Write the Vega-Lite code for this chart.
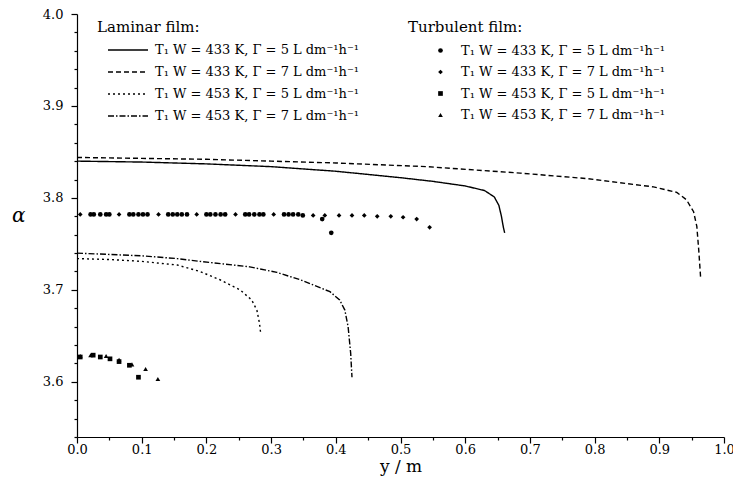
{
  "$schema": "https://vega.github.io/schema/vega-lite/v6.json",
  "width": 647,
  "height": 423,
  "autosize": "none",
  "padding": {"left": 77, "top": 14, "right": 9, "bottom": 59},
  "background": "white",
  "config": {
    "view": {"stroke": null},
    "font": "DejaVu Serif"
  },
  "resolve": {"legend": {"shape": "independent", "strokeDash": "independent"}},
  "datasets": {
    "laminar": [
      {"y": 0.0, "a": 3.840, "lam": "T₁ W = 433 K, Γ = 5 L dm⁻¹h⁻¹"},
      {"y": 0.1, "a": 3.839, "lam": "T₁ W = 433 K, Γ = 5 L dm⁻¹h⁻¹"},
      {"y": 0.2, "a": 3.837, "lam": "T₁ W = 433 K, Γ = 5 L dm⁻¹h⁻¹"},
      {"y": 0.3, "a": 3.834, "lam": "T₁ W = 433 K, Γ = 5 L dm⁻¹h⁻¹"},
      {"y": 0.4, "a": 3.829, "lam": "T₁ W = 433 K, Γ = 5 L dm⁻¹h⁻¹"},
      {"y": 0.5, "a": 3.822, "lam": "T₁ W = 433 K, Γ = 5 L dm⁻¹h⁻¹"},
      {"y": 0.55, "a": 3.818, "lam": "T₁ W = 433 K, Γ = 5 L dm⁻¹h⁻¹"},
      {"y": 0.6, "a": 3.813, "lam": "T₁ W = 433 K, Γ = 5 L dm⁻¹h⁻¹"},
      {"y": 0.63, "a": 3.808, "lam": "T₁ W = 433 K, Γ = 5 L dm⁻¹h⁻¹"},
      {"y": 0.645, "a": 3.801, "lam": "T₁ W = 433 K, Γ = 5 L dm⁻¹h⁻¹"},
      {"y": 0.652, "a": 3.792, "lam": "T₁ W = 433 K, Γ = 5 L dm⁻¹h⁻¹"},
      {"y": 0.656, "a": 3.780, "lam": "T₁ W = 433 K, Γ = 5 L dm⁻¹h⁻¹"},
      {"y": 0.659, "a": 3.768, "lam": "T₁ W = 433 K, Γ = 5 L dm⁻¹h⁻¹"},
      {"y": 0.661, "a": 3.762, "lam": "T₁ W = 433 K, Γ = 5 L dm⁻¹h⁻¹"},

      {"y": 0.0, "a": 3.844, "lam": "T₁ W = 433 K, Γ = 7 L dm⁻¹h⁻¹"},
      {"y": 0.1, "a": 3.843, "lam": "T₁ W = 433 K, Γ = 7 L dm⁻¹h⁻¹"},
      {"y": 0.2, "a": 3.842, "lam": "T₁ W = 433 K, Γ = 7 L dm⁻¹h⁻¹"},
      {"y": 0.3, "a": 3.840, "lam": "T₁ W = 433 K, Γ = 7 L dm⁻¹h⁻¹"},
      {"y": 0.4, "a": 3.838, "lam": "T₁ W = 433 K, Γ = 7 L dm⁻¹h⁻¹"},
      {"y": 0.54, "a": 3.834, "lam": "T₁ W = 433 K, Γ = 7 L dm⁻¹h⁻¹"},
      {"y": 0.685, "a": 3.827, "lam": "T₁ W = 433 K, Γ = 7 L dm⁻¹h⁻¹"},
      {"y": 0.788, "a": 3.821, "lam": "T₁ W = 433 K, Γ = 7 L dm⁻¹h⁻¹"},
      {"y": 0.891, "a": 3.812, "lam": "T₁ W = 433 K, Γ = 7 L dm⁻¹h⁻¹"},
      {"y": 0.927, "a": 3.806, "lam": "T₁ W = 433 K, Γ = 7 L dm⁻¹h⁻¹"},
      {"y": 0.942, "a": 3.798, "lam": "T₁ W = 433 K, Γ = 7 L dm⁻¹h⁻¹"},
      {"y": 0.953, "a": 3.785, "lam": "T₁ W = 433 K, Γ = 7 L dm⁻¹h⁻¹"},
      {"y": 0.958, "a": 3.769, "lam": "T₁ W = 433 K, Γ = 7 L dm⁻¹h⁻¹"},
      {"y": 0.961, "a": 3.743, "lam": "T₁ W = 433 K, Γ = 7 L dm⁻¹h⁻¹"},
      {"y": 0.964, "a": 3.712, "lam": "T₁ W = 433 K, Γ = 7 L dm⁻¹h⁻¹"},

      {"y": 0.0, "a": 3.734, "lam": "T₁ W = 453 K, Γ = 5 L dm⁻¹h⁻¹"},
      {"y": 0.05, "a": 3.733, "lam": "T₁ W = 453 K, Γ = 5 L dm⁻¹h⁻¹"},
      {"y": 0.1, "a": 3.731, "lam": "T₁ W = 453 K, Γ = 5 L dm⁻¹h⁻¹"},
      {"y": 0.155, "a": 3.727, "lam": "T₁ W = 453 K, Γ = 5 L dm⁻¹h⁻¹"},
      {"y": 0.19, "a": 3.720, "lam": "T₁ W = 453 K, Γ = 5 L dm⁻¹h⁻¹"},
      {"y": 0.221, "a": 3.711, "lam": "T₁ W = 453 K, Γ = 5 L dm⁻¹h⁻¹"},
      {"y": 0.252, "a": 3.700, "lam": "T₁ W = 453 K, Γ = 5 L dm⁻¹h⁻¹"},
      {"y": 0.27, "a": 3.689, "lam": "T₁ W = 453 K, Γ = 5 L dm⁻¹h⁻¹"},
      {"y": 0.278, "a": 3.678, "lam": "T₁ W = 453 K, Γ = 5 L dm⁻¹h⁻¹"},
      {"y": 0.282, "a": 3.664, "lam": "T₁ W = 453 K, Γ = 5 L dm⁻¹h⁻¹"},
      {"y": 0.284, "a": 3.652, "lam": "T₁ W = 453 K, Γ = 5 L dm⁻¹h⁻¹"},

      {"y": 0.0, "a": 3.740, "lam": "T₁ W = 453 K, Γ = 7 L dm⁻¹h⁻¹"},
      {"y": 0.1, "a": 3.737, "lam": "T₁ W = 453 K, Γ = 7 L dm⁻¹h⁻¹"},
      {"y": 0.155, "a": 3.734, "lam": "T₁ W = 453 K, Γ = 7 L dm⁻¹h⁻¹"},
      {"y": 0.19, "a": 3.731, "lam": "T₁ W = 453 K, Γ = 7 L dm⁻¹h⁻¹"},
      {"y": 0.267, "a": 3.725, "lam": "T₁ W = 453 K, Γ = 7 L dm⁻¹h⁻¹"},
      {"y": 0.309, "a": 3.719, "lam": "T₁ W = 453 K, Γ = 7 L dm⁻¹h⁻¹"},
      {"y": 0.345, "a": 3.711, "lam": "T₁ W = 453 K, Γ = 7 L dm⁻¹h⁻¹"},
      {"y": 0.391, "a": 3.698, "lam": "T₁ W = 453 K, Γ = 7 L dm⁻¹h⁻¹"},
      {"y": 0.406, "a": 3.689, "lam": "T₁ W = 453 K, Γ = 7 L dm⁻¹h⁻¹"},
      {"y": 0.414, "a": 3.678, "lam": "T₁ W = 453 K, Γ = 7 L dm⁻¹h⁻¹"},
      {"y": 0.419, "a": 3.660, "lam": "T₁ W = 453 K, Γ = 7 L dm⁻¹h⁻¹"},
      {"y": 0.423, "a": 3.631, "lam": "T₁ W = 453 K, Γ = 7 L dm⁻¹h⁻¹"},
      {"y": 0.425, "a": 3.605, "lam": "T₁ W = 453 K, Γ = 7 L dm⁻¹h⁻¹"}
    ],
    "turbulent": [
      {"y": 0.021, "a": 3.782, "tur": "T₁ W = 433 K, Γ = 5 L dm⁻¹h⁻¹"},
      {"y": 0.026, "a": 3.782, "tur": "T₁ W = 433 K, Γ = 5 L dm⁻¹h⁻¹"},
      {"y": 0.036, "a": 3.782, "tur": "T₁ W = 433 K, Γ = 5 L dm⁻¹h⁻¹"},
      {"y": 0.045, "a": 3.782, "tur": "T₁ W = 433 K, Γ = 5 L dm⁻¹h⁻¹"},
      {"y": 0.050, "a": 3.782, "tur": "T₁ W = 433 K, Γ = 5 L dm⁻¹h⁻¹"},
      {"y": 0.081, "a": 3.782, "tur": "T₁ W = 433 K, Γ = 5 L dm⁻¹h⁻¹"},
      {"y": 0.087, "a": 3.782, "tur": "T₁ W = 433 K, Γ = 5 L dm⁻¹h⁻¹"},
      {"y": 0.095, "a": 3.782, "tur": "T₁ W = 433 K, Γ = 5 L dm⁻¹h⁻¹"},
      {"y": 0.102, "a": 3.782, "tur": "T₁ W = 433 K, Γ = 5 L dm⁻¹h⁻¹"},
      {"y": 0.109, "a": 3.782, "tur": "T₁ W = 433 K, Γ = 5 L dm⁻¹h⁻¹"},
      {"y": 0.141, "a": 3.782, "tur": "T₁ W = 433 K, Γ = 5 L dm⁻¹h⁻¹"},
      {"y": 0.148, "a": 3.782, "tur": "T₁ W = 433 K, Γ = 5 L dm⁻¹h⁻¹"},
      {"y": 0.155, "a": 3.782, "tur": "T₁ W = 433 K, Γ = 5 L dm⁻¹h⁻¹"},
      {"y": 0.162, "a": 3.782, "tur": "T₁ W = 433 K, Γ = 5 L dm⁻¹h⁻¹"},
      {"y": 0.170, "a": 3.782, "tur": "T₁ W = 433 K, Γ = 5 L dm⁻¹h⁻¹"},
      {"y": 0.200, "a": 3.782, "tur": "T₁ W = 433 K, Γ = 5 L dm⁻¹h⁻¹"},
      {"y": 0.206, "a": 3.782, "tur": "T₁ W = 433 K, Γ = 5 L dm⁻¹h⁻¹"},
      {"y": 0.214, "a": 3.782, "tur": "T₁ W = 433 K, Γ = 5 L dm⁻¹h⁻¹"},
      {"y": 0.222, "a": 3.782, "tur": "T₁ W = 433 K, Γ = 5 L dm⁻¹h⁻¹"},
      {"y": 0.229, "a": 3.782, "tur": "T₁ W = 433 K, Γ = 5 L dm⁻¹h⁻¹"},
      {"y": 0.260, "a": 3.782, "tur": "T₁ W = 433 K, Γ = 5 L dm⁻¹h⁻¹"},
      {"y": 0.266, "a": 3.782, "tur": "T₁ W = 433 K, Γ = 5 L dm⁻¹h⁻¹"},
      {"y": 0.274, "a": 3.782, "tur": "T₁ W = 433 K, Γ = 5 L dm⁻¹h⁻¹"},
      {"y": 0.282, "a": 3.782, "tur": "T₁ W = 433 K, Γ = 5 L dm⁻¹h⁻¹"},
      {"y": 0.288, "a": 3.782, "tur": "T₁ W = 433 K, Γ = 5 L dm⁻¹h⁻¹"},
      {"y": 0.320, "a": 3.782, "tur": "T₁ W = 433 K, Γ = 5 L dm⁻¹h⁻¹"},
      {"y": 0.327, "a": 3.782, "tur": "T₁ W = 433 K, Γ = 5 L dm⁻¹h⁻¹"},
      {"y": 0.334, "a": 3.782, "tur": "T₁ W = 433 K, Γ = 5 L dm⁻¹h⁻¹"},
      {"y": 0.342, "a": 3.782, "tur": "T₁ W = 433 K, Γ = 5 L dm⁻¹h⁻¹"},
      {"y": 0.349, "a": 3.781, "tur": "T₁ W = 433 K, Γ = 5 L dm⁻¹h⁻¹"},
      {"y": 0.379, "a": 3.777, "tur": "T₁ W = 433 K, Γ = 5 L dm⁻¹h⁻¹"},
      {"y": 0.393, "a": 3.762, "tur": "T₁ W = 433 K, Γ = 5 L dm⁻¹h⁻¹"},

      {"y": 0.005, "a": 3.782, "tur": "T₁ W = 433 K, Γ = 7 L dm⁻¹h⁻¹"},
      {"y": 0.065, "a": 3.782, "tur": "T₁ W = 433 K, Γ = 7 L dm⁻¹h⁻¹"},
      {"y": 0.126, "a": 3.782, "tur": "T₁ W = 433 K, Γ = 7 L dm⁻¹h⁻¹"},
      {"y": 0.185, "a": 3.782, "tur": "T₁ W = 433 K, Γ = 7 L dm⁻¹h⁻¹"},
      {"y": 0.245, "a": 3.782, "tur": "T₁ W = 433 K, Γ = 7 L dm⁻¹h⁻¹"},
      {"y": 0.304, "a": 3.782, "tur": "T₁ W = 433 K, Γ = 7 L dm⁻¹h⁻¹"},
      {"y": 0.365, "a": 3.781, "tur": "T₁ W = 433 K, Γ = 7 L dm⁻¹h⁻¹"},
      {"y": 0.383, "a": 3.781, "tur": "T₁ W = 433 K, Γ = 7 L dm⁻¹h⁻¹"},
      {"y": 0.405, "a": 3.781, "tur": "T₁ W = 433 K, Γ = 7 L dm⁻¹h⁻¹"},
      {"y": 0.425, "a": 3.781, "tur": "T₁ W = 433 K, Γ = 7 L dm⁻¹h⁻¹"},
      {"y": 0.444, "a": 3.781, "tur": "T₁ W = 433 K, Γ = 7 L dm⁻¹h⁻¹"},
      {"y": 0.464, "a": 3.780, "tur": "T₁ W = 433 K, Γ = 7 L dm⁻¹h⁻¹"},
      {"y": 0.485, "a": 3.780, "tur": "T₁ W = 433 K, Γ = 7 L dm⁻¹h⁻¹"},
      {"y": 0.504, "a": 3.779, "tur": "T₁ W = 433 K, Γ = 7 L dm⁻¹h⁻¹"},
      {"y": 0.525, "a": 3.777, "tur": "T₁ W = 433 K, Γ = 7 L dm⁻¹h⁻¹"},
      {"y": 0.545, "a": 3.768, "tur": "T₁ W = 433 K, Γ = 7 L dm⁻¹h⁻¹"},

      {"y": 0.005, "a": 3.627, "tur": "T₁ W = 453 K, Γ = 5 L dm⁻¹h⁻¹"},
      {"y": 0.025, "a": 3.629, "tur": "T₁ W = 453 K, Γ = 5 L dm⁻¹h⁻¹"},
      {"y": 0.036, "a": 3.627, "tur": "T₁ W = 453 K, Γ = 5 L dm⁻¹h⁻¹"},
      {"y": 0.051, "a": 3.625, "tur": "T₁ W = 453 K, Γ = 5 L dm⁻¹h⁻¹"},
      {"y": 0.065, "a": 3.622, "tur": "T₁ W = 453 K, Γ = 5 L dm⁻¹h⁻¹"},
      {"y": 0.081, "a": 3.618, "tur": "T₁ W = 453 K, Γ = 5 L dm⁻¹h⁻¹"},
      {"y": 0.095, "a": 3.605, "tur": "T₁ W = 453 K, Γ = 5 L dm⁻¹h⁻¹"},

      {"y": 0.005, "a": 3.628, "tur": "T₁ W = 453 K, Γ = 7 L dm⁻¹h⁻¹"},
      {"y": 0.021, "a": 3.629, "tur": "T₁ W = 453 K, Γ = 7 L dm⁻¹h⁻¹"},
      {"y": 0.045, "a": 3.628, "tur": "T₁ W = 453 K, Γ = 7 L dm⁻¹h⁻¹"},
      {"y": 0.065, "a": 3.624, "tur": "T₁ W = 453 K, Γ = 7 L dm⁻¹h⁻¹"},
      {"y": 0.085, "a": 3.619, "tur": "T₁ W = 453 K, Γ = 7 L dm⁻¹h⁻¹"},
      {"y": 0.106, "a": 3.614, "tur": "T₁ W = 453 K, Γ = 7 L dm⁻¹h⁻¹"},
      {"y": 0.125, "a": 3.603, "tur": "T₁ W = 453 K, Γ = 7 L dm⁻¹h⁻¹"}
    ]
  },
  "encoding": {
    "x": {
      "field": "y", "type": "quantitative",
      "scale": {"domain": [0, 1], "nice": false, "zero": false},
      "axis": {
        "title": "y / m",
        "titleFont": "DejaVu Serif", "titleFontSize": 17, "titleFontWeight": "normal", "titleColor": "black", "titlePadding": 2,
        "values": [0, 0.05, 0.1, 0.15, 0.2, 0.25, 0.3, 0.35, 0.4, 0.45, 0.5, 0.55, 0.6, 0.65, 0.7, 0.75, 0.8, 0.85, 0.9, 0.95, 1.0],
        "labelExpr": "abs(datum.value*10 - round(datum.value*10)) < 0.01 ? format(datum.value, '.1f') : ''",
        "tickSize": {"condition": {"test": "abs(datum.value*10 - round(datum.value*10)) < 0.01", "value": 6}, "value": 3},
        "labelFont": "DejaVu Serif", "labelFontSize": 13, "labelColor": "black", "labelPadding": 0,
        "labelFlush": false, "labelOverlap": false,
        "domainColor": "black", "tickColor": "black", "domainWidth": 1.2, "tickWidth": 1.2,
        "grid": false
      }
    },
    "y": {
      "field": "a", "type": "quantitative",
      "scale": {"domain": [3.54, 4.0], "nice": false, "zero": false},
      "axis": {
        "title": "α",
        "titleAngle": 0, "titleFontStyle": "italic",
        "titleFont": "DejaVu Serif", "titleFontSize": 20, "titleFontWeight": "normal", "titleColor": "black", "titlePadding": 24,
        "values": [3.54, 3.56, 3.58, 3.6, 3.62, 3.64, 3.66, 3.68, 3.7, 3.72, 3.74, 3.76, 3.78, 3.8, 3.82, 3.84, 3.86, 3.88, 3.9, 3.92, 3.94, 3.96, 3.98, 4.0],
        "labelExpr": "abs(datum.value*10 - round(datum.value*10)) < 0.01 ? format(datum.value, '.1f') : ''",
        "tickSize": {"condition": {"test": "abs(datum.value*10 - round(datum.value*10)) < 0.01", "value": 6}, "value": 3},
        "labelFont": "DejaVu Serif", "labelFontSize": 13, "labelColor": "black", "labelPadding": 8,
        "labelFlush": false, "labelOverlap": false,
        "domainColor": "black", "tickColor": "black", "domainWidth": 1.2, "tickWidth": 1.2,
        "grid": false
      }
    }
  },
  "layer": [
    {
      "data": {"name": "laminar"},
      "mark": {"type": "line", "color": "black", "strokeWidth": 1.4, "clip": true},
      "encoding": {
        "strokeDash": {
          "field": "lam", "type": "nominal",
          "scale": {
            "domain": ["T₁ W = 433 K, Γ = 5 L dm⁻¹h⁻¹", "T₁ W = 433 K, Γ = 7 L dm⁻¹h⁻¹", "T₁ W = 453 K, Γ = 5 L dm⁻¹h⁻¹", "T₁ W = 453 K, Γ = 7 L dm⁻¹h⁻¹"],
            "range": [[1, 0], [5, 3], [2, 3], [6, 2, 1.5, 2]]
          },
          "legend": {
            "title": "Laminar film:",
            "orient": "none", "legendX": 20, "legendY": 6,
            "titleFont": "DejaVu Serif", "titleFontSize": 15, "titleFontWeight": "normal", "titleColor": "black", "titlePadding": 4,
            "labelFont": "DejaVu Serif", "labelFontSize": 13, "labelColor": "black", "labelLimit": 400,
            "symbolType": "M-2,0L2,0", "symbolSize": 400, "symbolStrokeWidth": 1.4, "symbolStrokeColor": "black", "symbolFillColor": "transparent",
            "symbolOffset": 20, "labelOffset": 16, "rowPadding": 4
          }
        }
      }
    },
    {
      "data": {"name": "turbulent"},
      "mark": {"type": "point", "filled": true, "color": "black", "opacity": 1, "size": 22},
      "encoding": {
        "shape": {
          "field": "tur", "type": "nominal",
          "scale": {
            "domain": ["T₁ W = 433 K, Γ = 5 L dm⁻¹h⁻¹", "T₁ W = 433 K, Γ = 7 L dm⁻¹h⁻¹", "T₁ W = 453 K, Γ = 5 L dm⁻¹h⁻¹", "T₁ W = 453 K, Γ = 7 L dm⁻¹h⁻¹"],
            "range": ["circle", "diamond", "square", "triangle-up"]
          },
          "legend": {
            "title": "Turbulent film:",
            "orient": "none", "legendX": 331, "legendY": 6,
            "titleFont": "DejaVu Serif", "titleFontSize": 15, "titleFontWeight": "normal", "titleColor": "black", "titlePadding": 9,
            "labelFont": "DejaVu Serif", "labelFontSize": 13, "labelColor": "black", "labelLimit": 400,
            "symbolSize": 22, "symbolFillColor": "black", "symbolStrokeColor": "black", "symbolStrokeWidth": 0, "symbolOpacity": 1,
            "symbolOffset": 26, "labelOffset": 14, "rowPadding": 7.5
          }
        }
      }
    }
  ]
}
